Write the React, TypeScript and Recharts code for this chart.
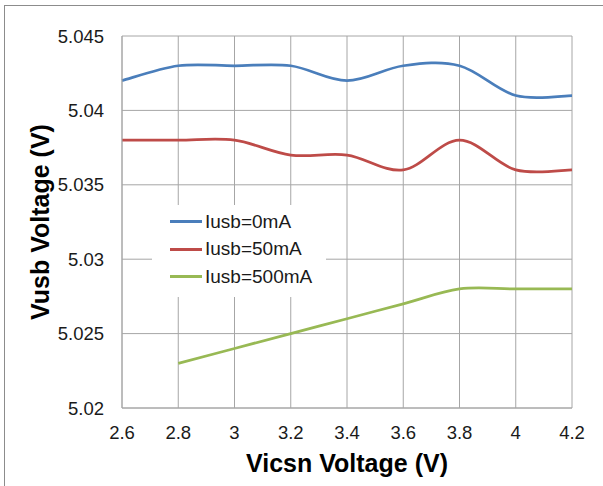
import { LineChart, Line, XAxis, YAxis, CartesianGrid, Legend } from 'recharts';

const xValues = [2.6, 2.8, 3.0, 3.2, 3.4, 3.6, 3.8, 4.0, 4.2];
const iusb0 = [5.042, 5.043, 5.043, 5.043, 5.042, 5.043, 5.043, 5.041, 5.041];
const iusb50 = [5.038, 5.038, 5.038, 5.037, 5.037, 5.036, 5.038, 5.036, 5.036];
const iusb500 = [null, 5.023, 5.024, 5.025, 5.026, 5.027, 5.028, 5.028, 5.028];

const xTicks = [2.6, 2.8, 3.0, 3.2, 3.4, 3.6, 3.8, 4.0, 4.2];
const yTicks = [5.02, 5.025, 5.03, 5.035, 5.04, 5.045];

const seriesInfo = [
    { key: 'a', name: 'Iusb=0mA', color: '#4a7ebb' },
    { key: 'b', name: 'Iusb=50mA', color: '#be4b48' },
    { key: 'c', name: 'Iusb=500mA', color: '#98b954' },
];

const data = xValues.map((x, i) => ({ x, a: iusb0[i], b: iusb50[i], c: iusb500[i] }));

// Excel-style smoothed line (bezier with 1/6 control points)
class ExcelSmooth {
    ctx: any;
    pts: number[][] = [];
    constructor(ctx: any) { this.ctx = ctx; }
    areaStart() {}
    areaEnd() {}
    lineStart() { this.pts = []; }
    point(x: number, y: number) { this.pts.push([+x, +y]); }
    lineEnd() {
        const p = this.pts;
        if (!p.length) return;
        this.ctx.moveTo(p[0][0], p[0][1]);
        for (let i = 0; i < p.length - 1; i++) {
            const p0 = p[i - 1] || p[i];
            const p1 = p[i];
            const p2 = p[i + 1];
            const p3 = p[i + 2] || p[i + 1];
            this.ctx.bezierCurveTo(
                p1[0] + (p2[0] - p0[0]) / 6, p1[1] + (p2[1] - p0[1]) / 6,
                p2[0] - (p3[0] - p1[0]) / 6, p2[1] - (p3[1] - p1[1]) / 6,
                p2[0], p2[1]
            );
        }
    }
}
const excelCurve: any = (ctx: any) => new ExcelSmooth(ctx);

const fmt = (v: number) => String(parseFloat(v.toFixed(3)));

const font = '"Liberation Sans", Arial, sans-serif';

const LegendBox = () => (
    <div style={{ background: '#fff', padding: '3px 14px 6px 18px', fontFamily: font, fontSize: 19, color: '#1a1a1a' }}>
        {seriesInfo.map((s) => (
            <div key={s.key} style={{ display: 'flex', alignItems: 'center', height: 27.5, whiteSpace: 'nowrap' }}>
                <div style={{ width: 32, height: 3, background: s.color, marginRight: 3 }} />
                <span>{s.name}</span>
            </div>
        ))}
    </div>
);

const App = () => {
    return (
        <div style={{ position: 'absolute', left: 0, top: 0, width: 603, height: 486, background: '#fff', overflow: 'hidden' }}>
            <div style={{ position: 'absolute', left: 4, top: 5, width: 640, height: 520, borderLeft: '1px solid #8c8c8c', borderTop: '1px solid #8c8c8c' }} />
            <LineChart
                width={603}
                height={486}
                data={data}
                margin={{ top: 36, right: 31, left: 0, bottom: 0 }}
                style={{ fontFamily: font }}
            >
                <CartesianGrid stroke="#a6a6a6" strokeWidth={1} />
                <XAxis
                    dataKey="x"
                    type="number"
                    domain={[2.6, 4.2]}
                    ticks={xTicks}
                    tickFormatter={fmt}
                    tickLine={false}
                    axisLine={{ stroke: '#a6a6a6' }}
                    tick={{ fill: '#1a1a1a', fontSize: 18.5 }}
                    tickMargin={12}
                    height={78}
                    interval={0}
                    label={{ value: 'Vicsn Voltage (V)', position: 'insideBottom', offset: 14, style: { fontSize: 25, fontWeight: 'bold', fill: '#000' } }}
                />
                <YAxis
                    type="number"
                    domain={[5.02, 5.045]}
                    ticks={yTicks}
                    tickFormatter={fmt}
                    tickLine={false}
                    axisLine={{ stroke: '#a6a6a6' }}
                    tick={{ fill: '#1a1a1a', fontSize: 18.5 }}
                    tickMargin={12}
                    width={122}
                    interval={0}
                    label={{ value: 'Vusb Voltage (V)', angle: -90, position: 'insideLeft', offset: 40, style: { fontSize: 25, fontWeight: 'bold', fill: '#000', textAnchor: 'middle' } }}
                />
                <Legend
                    layout="vertical"
                    verticalAlign="middle"
                    align="center"
                    wrapperStyle={{ left: 152, top: 205, width: 'auto' }}
                    content={() => <LegendBox />}
                />
                {seriesInfo.map((s) => (
                    <Line
                        key={s.key}
                        dataKey={s.key}
                        name={s.name}
                        type={excelCurve}
                        stroke={s.color}
                        strokeWidth={2.75}
                        dot={false}
                        activeDot={false}
                        isAnimationActive={false}
                    />
                ))}
            </LineChart>
        </div>
    );
};

export default App;
